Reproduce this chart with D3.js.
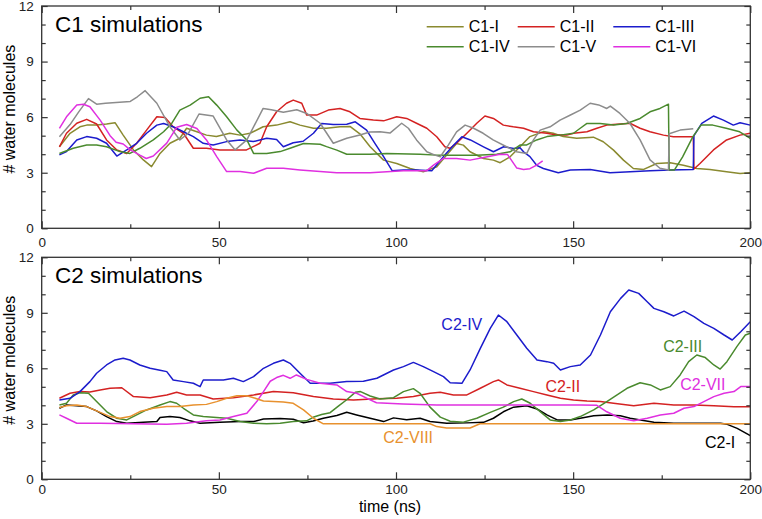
<!DOCTYPE html>
<html><head><meta charset="utf-8">
<script src="https://cdn.jsdelivr.net/npm/d3@7"></script>
<style>body{margin:0;background:#fff}svg{display:block;font-family:"Liberation Sans",Arial,sans-serif}</style>
</head><body>
<svg id="chart" width="762" height="519"></svg>
<script>
// ---- data (time in ns, number of water molecules) ----
const xTicks = [0, 50, 100, 150, 200];
const xMinor = [25, 75, 125, 175];
const yTicks = [0, 3, 6, 9, 12];
const yMinor = [1, 2, 4, 5, 7, 8, 10, 11];

const c1_I = [[5,4.4],[8,5.13],[10.8,5.48],[12.7,5.57],[15.5,5.57],[18.3,5.63],[20.7,5.7],[23,5.03],[25.9,4.23],[28.7,3.69],[31,3.33],[33.4,4.04],[36.2,4.59],[39,4.86],[40.9,5.4],[43.8,5.21],[46.5,5.03],[49.3,4.95],[53.1,5.13],[56,5.03],[58.8,5.13],[62.5,5.48],[66.3,5.57],[70.1,5.75],[72.9,5.57],[76.7,5.4],[80.4,5.4],[84.2,5.48],[87,5.5],[89.8,5.1],[92.7,4.4],[96.5,3.68],[100.2,3.5],[104,3.23],[107.7,3.05],[111.5,3.32],[114.3,3.95],[117.1,4.58],[119,4.49],[120.9,4.13],[124.7,3.77],[127.5,3.68],[129.4,3.54],[132.2,3.86],[135,4.4],[137.8,4.95],[141.6,5.22],[144.4,5.13],[147.2,4.95],[151,4.86],[155.7,4.92],[158.5,4.67],[161.4,4.22],[164.2,3.68],[167,3.23],[169.9,3.18],[173.6,3.5],[177.4,3.54],[181.1,3.4],[184.9,3.23],[188.6,3.18],[193.3,3.05],[197.1,2.96],[200,3.0]];
const c1_II = [[5,4.4],[7,5.13],[9.9,5.67],[12.7,5.88],[15.5,5.63],[18.3,4.77],[21.2,4.23],[24,4.04],[26.8,4.59],[29.6,5.3],[32.5,6.02],[34.8,5.98],[37.1,5.48],[40,5.13],[42.8,4.32],[46.5,4.32],[50.3,4.23],[54.1,4.23],[57.8,4.23],[61.6,4.59],[63.5,5.48],[66.3,6.29],[69.1,6.75],[71,6.92],[73.4,6.75],[74.8,6.11],[77.6,6.11],[80.9,6.38],[84.2,6.47],[87,6.29],[89.8,5.93],[93.6,5.84],[96.5,5.8],[100.2,6.02],[103,5.93],[105.8,5.67],[108.7,5.4],[111.5,4.94],[113.8,4.4],[115.2,4.32],[117.1,4.59],[120,5.13],[122.8,5.67],[125.1,6.06],[127.5,5.93],[130.3,5.57],[133.1,5.48],[136,5.4],[138.8,5.21],[142.6,5.13],[145.4,5.03],[148.2,5.03],[150.1,5.13],[153.9,5.21],[156.7,5.4],[159.5,5.57],[163.3,5.63],[166,5.67],[168.9,5.4],[171.7,5.21],[175.5,5.03],[178.3,4.94],[183.9,4.94],[184.1,3.2],[185.8,3.5],[189.6,4.23],[193.3,4.77],[197.1,5.03],[200,5.13]];
const c1_III = [[5,3.96],[7,4.14],[9.9,4.77],[12.7,4.95],[15.5,4.86],[18.3,4.59],[21.2,3.9],[24,4.23],[26.8,4.59],[29.6,5.13],[32.5,5.57],[34.4,5.66],[37.1,5.48],[40,5.21],[42.8,4.95],[45.6,4.59],[48.4,4.5],[52.2,4.68],[56,4.77],[59.7,4.68],[63.5,4.86],[66.3,4.8],[68.2,4.4],[71,4.62],[73.8,4.7],[76.7,5.13],[79,5.66],[82.3,5.6],[86.1,5.62],[88.5,5.75],[91.7,5.3],[94,4.6],[96.5,3.87],[98.9,3.11],[102.1,3.15],[105.9,3.15],[110.1,3.11],[113.4,3.87],[116.3,4.49],[118.6,4.94],[121,4.77],[124.7,4.4],[127.5,4.13],[130.4,4.4],[133.2,4.31],[135,4.35],[136,4.13],[137.8,3.87],[139.7,3.4],[141.6,3.23],[145.8,3.0],[149.2,3.15],[154.8,3.18],[160.4,3.0],[166.1,3.05],[171.7,3.11],[177.4,3.15],[183.9,3.18],[184.1,5.0],[186.3,5.66],[189.6,6.06],[192.4,5.84],[195.2,5.57],[197.1,5.7],[200,5.57]];
const c1_IV = [[5,4.04],[8.9,4.32],[12.7,4.5],[15.5,4.5],[18.3,4.4],[22.1,4.14],[24.9,4.04],[27.7,4.32],[31.5,4.77],[34.4,5.21],[36.7,5.66],[39,6.38],[41.9,6.65],[44.7,7.02],[47.1,7.1],[49.4,6.65],[52.2,6.02],[55.1,5.3],[57.9,4.77],[59.8,4.04],[63.5,4.04],[67.3,4.14],[70.1,4.32],[73.9,4.58],[78.6,4.54],[80.4,4.41],[83.3,4.22],[86.1,4.0],[92.7,4.0],[97.4,4.04],[106.8,4.0],[111.5,3.95],[117.1,3.95],[122.8,3.95],[128.4,4.0],[132.2,4.13],[135.1,4.5],[136.9,4.5],[139.7,4.77],[142.6,4.95],[146.3,5.03],[150.1,5.13],[152,5.4],[153.9,5.66],[157.6,5.66],[161.4,5.57],[165.1,5.66],[168.9,5.93],[171.7,6.29],[174.5,6.47],[176.9,6.7],[177.1,3.15],[178.6,3.15],[180.9,3.86],[183.8,4.95],[186.1,5.57],[189.4,5.57],[193.2,5.4],[197,5.21],[200,4.86]];
const c1_V = [[5,4.94],[8,5.6],[10.5,6.3],[13.2,7.0],[15.5,6.7],[18,6.75],[22,6.8],[25,6.85],[27,7.1],[29.2,7.43],[32.5,6.75],[36.2,5.48],[39,4.77],[41.4,5.13],[44.4,6.17],[48.4,6.06],[52.2,4.77],[54.6,4.23],[57.9,4.77],[62.5,6.47],[64.8,6.4],[68.2,6.26],[72,6.4],[74.8,6.2],[78.6,5.67],[82.3,4.59],[86.1,4.86],[89.8,5.04],[92.6,5.2],[95.5,5.21],[98.3,5.14],[101.6,5.67],[103.5,5.4],[105.8,4.77],[108.7,4.13],[111,3.95],[112.5,3.86],[114.8,4.5],[117.1,5.21],[119.5,5.57],[121.9,5.4],[124.6,5.13],[127.4,4.77],[131.2,4.4],[134,4.13],[136.9,4.04],[138.8,4.77],[140.7,5.3],[143.5,5.48],[146.3,5.84],[149.1,6.1],[152,6.38],[154.8,6.75],[157.2,6.66],[159.5,6.47],[160.5,6.6],[163.2,6.2],[166,5.67],[168.9,4.77],[171.7,3.69],[174.5,3.24],[176.9,3.15],[177.1,5.1],[180.2,5.3],[183.9,5.38]];
const c1_VI = [[5,5.39],[7,6.02],[9.9,6.65],[11.8,6.7],[13.6,6.56],[16.5,5.84],[19.3,5.0],[21,4.65],[23,4.55],[24.9,4.25],[27.7,3.95],[29.5,3.77],[31.5,3.9],[35.3,4.6],[38.1,5.45],[40.9,5.6],[43.8,5.39],[46.5,4.77],[49.4,3.87],[52.2,3.06],[56,3.06],[59.8,2.97],[63.5,3.24],[68.2,3.24],[72.9,3.15],[78.6,3.06],[83.3,3.0],[92.7,3.0],[102.1,3.11],[108.7,3.11],[110.6,3.41],[113.4,3.77],[117.1,3.77],[120.9,3.68],[124.7,3.82],[129.4,4.0],[131.5,3.98],[134.1,3.25],[136,3.18],[137.8,3.22],[139.7,3.41],[141.4,3.64]];

const c2_I = [[5,3.84],[7,4.02],[9.9,3.98],[12.7,3.93],[15.5,3.7],[18.3,3.39],[21.2,3.12],[24,3.03],[28.7,3.08],[32.5,3.12],[33.4,3.34],[36.2,3.39],[39,3.34],[41.9,3.16],[44.7,3.03],[50.3,3.08],[56,3.12],[59.8,3.12],[62.6,3.26],[67.3,3.28],[71,3.25],[73.9,3.06],[76.6,3.15],[79.5,3.3],[83.3,3.45],[86.1,3.62],[88.9,3.48],[92.7,3.3],[96.5,3.12],[99.3,3.32],[103,3.22],[106.8,3.3],[109.6,3.12],[114.3,3.03],[120,3.05],[124.7,3.08],[127.5,3.3],[130.3,3.65],[133.2,3.9],[136.9,3.98],[139.8,3.8],[142.6,3.48],[145.5,3.21],[149.2,3.21],[152,3.3],[155.8,3.43],[159.6,3.48],[163.3,3.43],[166.1,3.3],[169,3.21],[172.8,3.08],[178.4,3.03],[186,3.03],[191.6,3.03],[193.5,2.97],[196.3,2.75],[200,2.36]];
const c2_II = [[5,4.38],[8,4.65],[10.8,4.74],[13.6,4.72],[16.5,4.83],[19.3,4.92],[22.6,4.95],[25.9,4.47],[30.6,4.41],[35.3,4.56],[38.1,4.7],[40.9,4.56],[44.7,4.56],[48.4,4.34],[54.1,4.41],[59.8,4.56],[65.4,4.74],[71,4.68],[76.7,4.47],[82.3,4.34],[88,4.29],[94.6,4.36],[100.2,4.38],[104.9,4.47],[109.6,4.65],[112.5,4.7],[116.2,4.56],[120,4.56],[123.8,4.92],[127.5,5.28],[128.9,5.37],[131.3,5.1],[135,4.92],[138.8,4.74],[142.6,4.56],[146.4,4.38],[150.1,4.29],[153.9,4.23],[157.7,4.2],[161.4,4.11],[167.1,3.98],[172.8,4.11],[178.4,4.02],[184.1,4.02],[189.7,3.98],[195.4,3.92],[200,3.92]];
const c2_III = [[5,4.02],[7,4.11],[8.9,4.56],[10.8,4.68],[13.2,4.65],[15.5,4.2],[18.3,3.66],[21.2,3.3],[24,3.21],[26.8,3.48],[29.6,3.75],[33.4,4.02],[36.2,4.2],[38.1,4.11],[40,3.84],[42.8,3.48],[45.6,3.39],[48.4,3.35],[52.2,3.3],[56,3.12],[59.8,3.03],[63.5,3.0],[67.3,3.03],[71,3.12],[74.8,3.16],[76.6,3.35],[79,3.5],[81.4,3.6],[84,4.0],[86.1,4.3],[88.5,4.7],[90,4.74],[92.7,4.5],[95.5,4.34],[99.3,4.41],[102.1,4.74],[104.9,4.9],[106.8,4.65],[109.6,3.9],[112.5,3.36],[115.3,3.14],[119,3.09],[122.8,3.3],[126.6,3.62],[130.3,3.9],[133.2,4.2],[135.5,4.34],[137.9,4.11],[140.7,3.66],[143.5,3.21],[146.4,3.12],[149.2,3.21],[152,3.39],[155.8,3.75],[159.5,4.2],[162.4,4.56],[165.2,4.92],[168.9,5.22],[171.8,5.1],[174.6,4.83],[177.4,5.01],[180.2,5.64],[182.6,6.36],[184.9,6.72],[187.3,6.58],[189.7,6.18],[191.5,5.96],[193.4,6.36],[196.2,7.17],[198.6,7.8],[200,7.89]];
const c2_IV = [[5,4.29],[8,4.38],[10.8,4.74],[13.6,5.28],[15.5,5.73],[18.3,6.18],[20.7,6.45],[23,6.54],[24.9,6.45],[27.7,6.18],[30.6,6.0],[33.4,5.9],[35.3,5.82],[37.1,5.37],[40,5.28],[42.8,5.19],[44.7,5.01],[45.6,5.37],[48.4,5.37],[51.3,5.37],[54.1,5.46],[56.9,5.28],[59.8,5.55],[62.6,6.0],[65.4,6.27],[68.2,6.45],[70.1,6.27],[72.9,5.73],[75.8,5.19],[78.6,5.19],[81.4,5.19],[86.1,5.28],[90.8,5.3],[94.6,5.46],[99.3,5.91],[102.1,6.09],[104.9,6.32],[107.7,6.09],[110.6,5.82],[113.4,5.55],[115.3,5.22],[118.6,5.19],[120.9,5.91],[123.8,7.08],[126.6,8.16],[128.9,8.88],[131.3,8.52],[134.1,7.8],[136.9,7.08],[139.8,6.45],[142.6,6.36],[144.5,6.27],[146.4,5.91],[149.2,6.09],[152,6.18],[154.9,6.72],[157.7,7.8],[160.5,9.06],[163.4,9.78],[165.7,10.23],[168.5,10.05],[170.9,9.6],[172.8,9.24],[175.6,9.06],[178.4,8.83],[181.3,9.09],[184.1,8.79],[186.9,8.43],[189.7,8.16],[192.6,7.8],[194.9,7.53],[197.3,7.98],[200,8.52]];
const c2_VII = [[5,3.48],[7,3.3],[9.9,3.03],[16.5,3.03],[25.9,3.0],[35.3,2.98],[40.9,3.03],[46.5,3.16],[50.3,3.21],[54.1,3.39],[57.9,3.57],[60.7,4.2],[62.6,4.74],[64.5,5.3],[66.3,5.5],[68.2,5.62],[70.1,5.46],[71.9,5.64],[74.8,5.4],[78.6,5.19],[83.3,5.1],[86.1,4.74],[88.9,4.65],[92.7,4.29],[94.5,4.14],[102,4.07],[111.5,4.02],[120.9,4.02],[135,4.02],[152,4.02],[156.7,4.0],[159.5,3.65],[163.3,3.3],[167.1,3.17],[170.9,3.3],[174.6,3.48],[178.4,3.57],[181.3,3.84],[184.1,3.93],[186.9,4.2],[189.7,4.47],[192.6,4.65],[195.4,4.74],[197.3,5.01],[200,5.01]];
const c2_VIII = [[5,3.88],[7,3.98],[9.9,4.02],[12.7,3.93],[16.5,3.62],[19.3,3.39],[22.1,3.3],[24.9,3.39],[27.7,3.66],[31.5,3.84],[35.3,3.93],[39,3.93],[42.8,4.02],[46.5,4.05],[49.4,4.2],[52.2,4.38],[55.1,4.52],[57.9,4.52],[59.8,4.41],[62.6,4.23],[65.4,4.2],[68.2,4.18],[71,4.11],[73.9,3.75],[76.7,3.3],[79.5,3.0],[109.6,3.0],[111.5,2.85],[114.3,2.77],[120.9,2.77],[123.7,3.0],[200,3.0]];

const c1Names = ["C1-I", "C1-II", "C1-III", "C1-IV", "C1-V", "C1-VI"];
const c1Colors = ["#8a8a30", "#d42222", "#1c1ccc", "#4a8a2e", "#8c8c8c", "#e030e0"];
const c1Series = [c1_I, c1_II, c1_III, c1_IV, c1_V, c1_VI];

const c2Names = ["C2-I", "C2-II", "C2-III", "C2-IV", "C2-VII", "C2-VIII"];
const c2Colors = ["#000000", "#d42222", "#4a8a2e", "#1c1ccc", "#e030e0", "#e8912e"];
const c2Series = [c2_I, c2_II, c2_III, c2_IV, c2_VII, c2_VIII];
// label anchor points (time, value) for in-plot labels of C2 panel
const c2LabelAt = [[187.2, 1.68], [142.2, 4.74], [175.4, 6.9], [112.8, 8.07], [180.2, 4.83], [96.4, 1.95]];

// ---- drawing ----
const svg = d3.select("#chart");
svg.append("rect").attr("width", 762).attr("height", 519).attr("fill", "#fff");
const x = d3.scaleLinear().domain([0, 200]).range([41.7, 750.3]);
const panels = [
  {top: 6, bottom: 228.3, title: "C1 simulations", series: c1Series, colors: c1Colors},
  {top: 257.3, bottom: 479.3, title: "C2 simulations", series: c2Series, colors: c2Colors}
];
const axisColor = "#333";
const font = "'Liberation Sans', Arial, sans-serif";

panels.forEach((p, pi) => {
  const y = d3.scaleLinear().domain([0, 12]).range([p.bottom, p.top]);
  const g = svg.append("g");
  const line = d3.line().x(d => x(d[0])).y(d => y(d[1]));
  const clipId = "clip" + pi;
  svg.append("clipPath").attr("id", clipId).append("rect")
    .attr("x", x(0)).attr("y", p.top).attr("width", x(200) - x(0)).attr("height", p.bottom - p.top);
  const lg = g.append("g").attr("clip-path", `url(#${clipId})`);
  p.series.forEach((s, i) => {
    lg.append("path").datum(s).attr("d", line).attr("fill", "none")
      .attr("stroke", p.colors[i]).attr("stroke-width", 1.5).attr("stroke-linejoin", "round");
  });

  const styleAxis = (sel) => {
    sel.select(".domain").remove();
    sel.selectAll(".tick line").attr("stroke", axisColor).attr("stroke-width", 1.2);
    sel.selectAll("text").attr("font-family", font).attr("font-size", 13.5).attr("fill", "#222");
  };
  // x axes
  g.append("g").attr("transform", `translate(0,${p.bottom})`)
    .call(d3.axisBottom(x).tickValues(xTicks).tickSize(-7).tickPadding(pi === 0 ? 9.5 : 5.5).tickFormat(d3.format("d"))).call(styleAxis);
  g.append("g").attr("transform", `translate(0,${p.bottom})`)
    .call(d3.axisBottom(x).tickValues(xMinor).tickSize(-4).tickFormat("")).call(styleAxis);
  g.append("g").attr("transform", `translate(0,${p.top})`)
    .call(d3.axisTop(x).tickValues(xTicks).tickSize(-7).tickFormat("")).call(styleAxis);
  g.append("g").attr("transform", `translate(0,${p.top})`)
    .call(d3.axisTop(x).tickValues(xMinor).tickSize(-4).tickFormat("")).call(styleAxis);
  // y axes
  g.append("g").attr("transform", `translate(${x(0)},0)`)
    .call(d3.axisLeft(y).tickValues(yTicks).tickSize(-6).tickPadding(8).tickFormat(d3.format("d"))).call(styleAxis);
  g.append("g").attr("transform", `translate(${x(0)},0)`)
    .call(d3.axisLeft(y).tickValues(yMinor).tickSize(-4).tickFormat("")).call(styleAxis);
  g.append("g").attr("transform", `translate(${x(200)},0)`)
    .call(d3.axisRight(y).tickValues(yTicks).tickSize(-6).tickFormat("")).call(styleAxis);
  g.append("g").attr("transform", `translate(${x(200)},0)`)
    .call(d3.axisRight(y).tickValues(yMinor).tickSize(-4).tickFormat("")).call(styleAxis);

  // frame
  g.append("rect").attr("x", x(0)).attr("y", p.top).attr("width", x(200) - x(0)).attr("height", p.bottom - p.top)
    .attr("fill", "none").attr("stroke", axisColor).attr("stroke-width", 1.3);

  // title
  g.append("text").attr("x", 55).attr("y", p.top + 26).attr("font-family", font).attr("font-size", 22.5)
    .attr("fill", "#000").text(p.title);
  // y label
  g.append("text").attr("transform", `translate(15,${(p.top + p.bottom) / 2 - 8}) rotate(-90)`)
    .attr("text-anchor", "middle").attr("font-family", font).attr("font-size", 16).attr("fill", "#000")
    .text("# water molecules");

  if (pi === 0) {
    const colX = [426.7, 517.7, 613.3];
    const rowY = [26.7, 46.7];
    c1Names.forEach((n, i) => {
      const cx = colX[i % 3], cy = rowY[Math.floor(i / 3)];
      g.append("line").attr("x1", cx).attr("x2", cx + 37).attr("y1", cy).attr("y2", cy)
        .attr("stroke", c1Colors[i]).attr("stroke-width", 1.5);
      g.append("text").attr("x", cx + 42).attr("y", cy + 5.5).attr("font-family", font).attr("font-size", 16)
        .attr("fill", "#000").text(n);
    });
  } else {
    c2Names.forEach((n, i) => {
      g.append("text").attr("x", x(c2LabelAt[i][0])).attr("y", y(c2LabelAt[i][1]))
        .attr("font-family", font).attr("font-size", 16).attr("fill", c2Colors[i]).text(n);
    });
    g.append("text").attr("x", 390).attr("y", 512).attr("text-anchor", "middle")
      .attr("font-family", font).attr("font-size", 16).attr("fill", "#000").text("time (ns)");
  }
});
</script>
</body></html>
